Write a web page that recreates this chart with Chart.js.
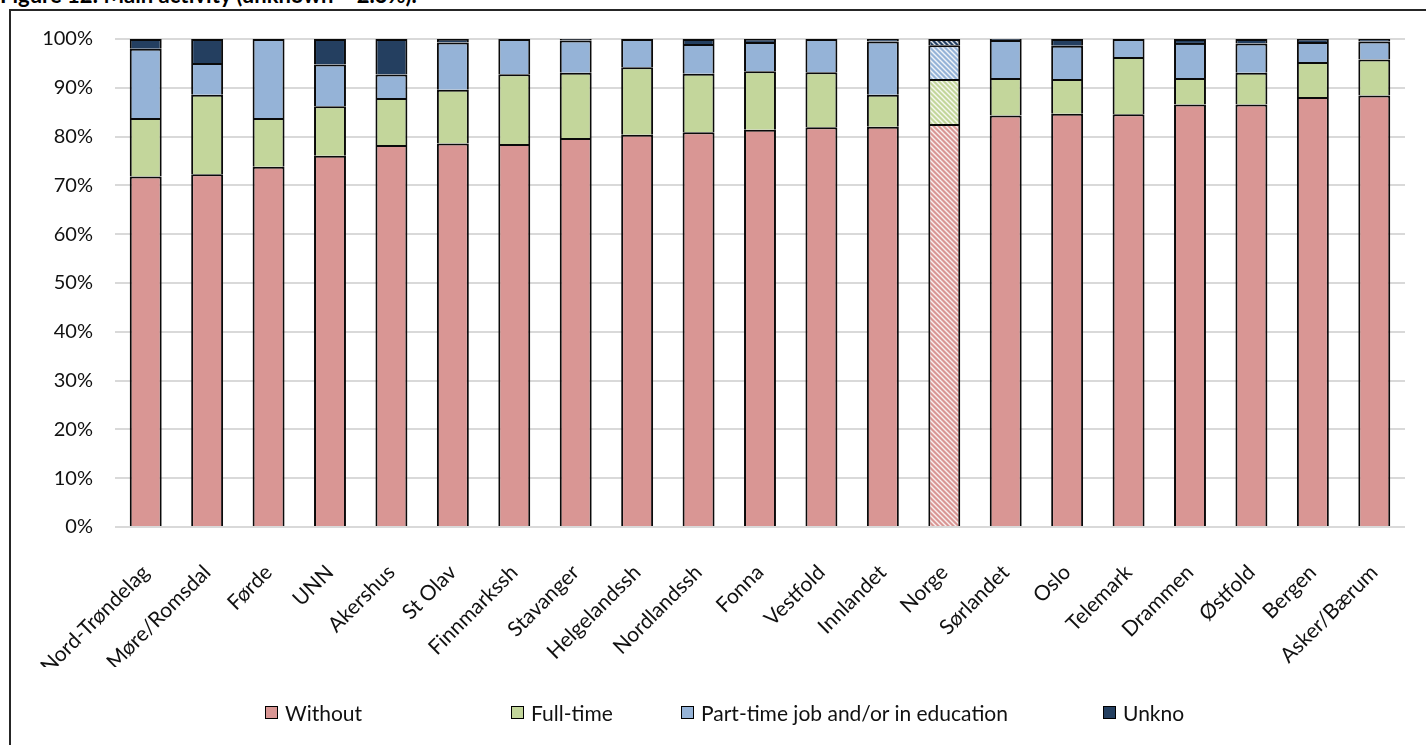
<!DOCTYPE html>
<html>
<head>
<meta charset="utf-8">
<script src="https://cdn.jsdelivr.net/npm/chart.js@4.4.1/dist/chart.umd.min.js"></script>
<style>
  html, body { margin: 0; padding: 0; background: #fff; overflow: hidden; }
  body { width: 1426px; height: 745px; position: relative; font-family: Lato, sans-serif; }
  #title { position: absolute; left: 0; top: -19px; font: bold 22px Lato, sans-serif; color: #000; white-space: nowrap; }
  #frame { position: absolute; left: 9px; top: 9px; width: 1500px; height: 800px; border: 2px solid #262626; box-sizing: border-box; }
  #wrap { position: absolute; left: 0; top: 0; width: 1426px; height: 745px; }
  .lg { position: absolute; top: 701px; font-size: 21px; color: #111; white-space: nowrap; line-height: 24px; }
  .lg i { position: absolute; left: -20px; top: 5px; width: 11px; height: 11px; border: 1.5px solid #000; }
</style>
</head>
<body>
<div id="title">Figure 12: Main activity (unknown = 2.3%).</div>
<div id="frame"></div>
<div id="wrap"><canvas id="c" width="1426" height="745"></canvas></div>
<div id="legend"></div>
<script>
// Share of patients per health trust, by main activity (%)
const categories = ['Nord-Trøndelag', 'Møre/Romsdal', 'Førde', 'UNN', 'Akershus', 'St Olav', 'Finnmarkssh',
  'Stavanger', 'Helgelandssh', 'Nordlandssh', 'Fonna', 'Vestfold', 'Innlandet', 'Norge', 'Sørlandet',
  'Oslo', 'Telemark', 'Drammen', 'Østfold', 'Bergen', 'Asker/Bærum'];
const withoutJob = [71.8, 72.3, 73.8, 76.1, 78.3, 78.6, 78.5, 79.7, 80.4, 80.9, 81.4, 81.9, 82.0, 82.6, 84.3, 84.7, 84.6, 86.6, 86.6, 88.1, 88.4];
const fullTime   = [12.0, 16.3, 10.0, 10.1, 9.6, 11.0, 14.3, 13.4, 13.8, 12.0, 12.0, 11.3, 6.6, 9.2, 7.7, 7.1, 11.7, 5.4, 6.5, 7.2, 7.4];
const partTime   = [14.2, 6.5, 16.2, 8.6, 4.8, 9.7, 7.2, 6.6, 5.8, 6.1, 6.0, 6.8, 10.9, 6.9, 7.8, 6.8, 3.7, 7.2, 6.0, 4.1, 3.7];
const unknown    = [2.0, 4.9, 0, 5.2, 7.3, 0.7, 0, 0.3, 0, 1.0, 0.6, 0, 0.5, 1.3, 0.2, 1.4, 0, 0.8, 0.9, 0.6, 0.5];
const yTicks = [0, 10, 20, 30, 40, 50, 60, 70, 80, 90, 100];

const seriesNames = ['Without', 'Full-time', 'Part-time job and/or in education', 'Unkno'];
const seriesColors = ['#D99694', '#C3D69B', '#95B3D7', '#243F60'];
const legendLeft = [285, 531, 701, 1123];

// the national total (Norge) is drawn hatched
const hatchIndex = categories.indexOf('Norge');
function hatch(color) {
  const t = document.createElement('canvas');
  t.width = 5; t.height = 5;
  const g = t.getContext('2d');
  g.fillStyle = color;
  g.fillRect(0, 0, 5, 5);
  g.strokeStyle = 'rgba(255,255,255,0.85)';
  g.lineWidth = 1.4;
  g.beginPath();
  g.moveTo(-1, -1); g.lineTo(6, 6);
  g.moveTo(-4, 1); g.lineTo(1, 6);
  g.moveTo(1, -4); g.lineTo(6, 1);
  g.stroke();
  return g.createPattern(t, 'repeat');
}

const seriesData = [withoutJob, fullTime, partTime, unknown];
const datasets = seriesData.map((data, i) => {
  const pat = hatch(seriesColors[i]);
  return {
    label: seriesNames[i],
    data: data,
    backgroundColor: (ctx) => ctx.dataIndex === hatchIndex ? pat : seriesColors[i],
    borderColor: '#0a0a0a',
    borderWidth: { top: 2, bottom: 0, left: 2, right: 2 },
    borderSkipped: false,
    categoryPercentage: 1,
    barPercentage: 0.52
  };
});

new Chart(document.getElementById('c'), {
  type: 'bar',
  data: { labels: categories, datasets: datasets },
  options: {
    responsive: false,
    animation: false,
    layout: { padding: { top: 39, left: 9, right: 21, bottom: 78 } },
    plugins: { legend: { display: false }, tooltip: { enabled: false } },
    scales: {
      x: {
        stacked: true,
        grid: { display: false, drawTicks: false },
        border: { display: false },
        ticks: { color: '#111', font: { family: 'Lato, sans-serif', size: 21 }, minRotation: 45, maxRotation: 45, autoSkip: false, padding: 33 },
        afterFit: (s) => { s.height = 140; }
      },
      y: {
        stacked: true,
        min: 0, max: 100,
        afterBuildTicks: (s) => { s.ticks = yTicks.map(v => ({ value: v })); },
        grid: { color: '#d9d9d9', lineWidth: 2, drawTicks: false },
        border: { display: false },
        ticks: { color: '#111', font: { family: 'Lato, sans-serif', size: 20 }, padding: 22, callback: (v) => v + '%' },
        afterFit: (s) => { s.width = 106; }
      }
    }
  }
});

const legend = document.getElementById('legend');
seriesNames.forEach((name, i) => {
  const d = document.createElement('div');
  d.className = 'lg';
  d.style.left = legendLeft[i] + 'px';
  d.innerHTML = '<i style="background:' + seriesColors[i] + '"></i>' + name;
  legend.appendChild(d);
});
</script>
</body>
</html>
